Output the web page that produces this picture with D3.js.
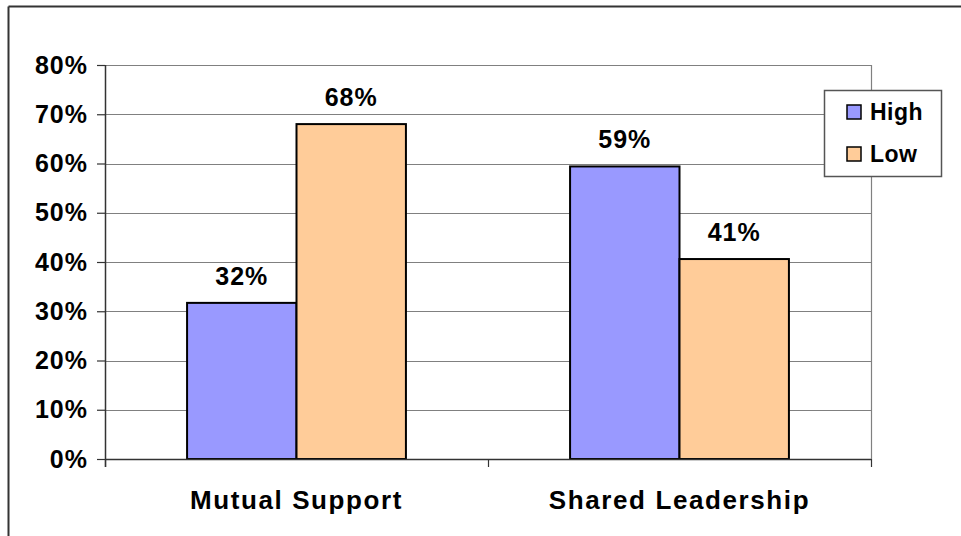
<!DOCTYPE html>
<meta charset="utf-8">
<script src="https://d3js.org/d3.v7.min.js"></script>
<style>
  body { margin: 0; background: #fff; }
  text { font-family: "Liberation Sans", Arial, sans-serif; font-weight: bold; fill: #000; }
</style>
<div id="my_dataviz"></div>
<script>
  // data
  var categories = ["Mutual Support", "Shared Leadership"];
  var seriesNames = ["High", "Low"];
  var highValues = [0.317, 0.594];
  var lowValues = [0.68, 0.406];
  var yTicks = [0, 0.1, 0.2, 0.3, 0.4, 0.5, 0.6, 0.7, 0.8];
  var colors = {High: "#9999ff", Low: "#ffcc99"};

  var data = categories.map(function(c, i) {
    return {cat: c, values: [{key: "High", v: highValues[i]}, {key: "Low", v: lowValues[i]}]};
  });

  var W = 961, H = 536;
  var margin = {top: 65, right: 90, bottom: 77, left: 105},
      width = W - margin.left - margin.right,
      height = H - margin.top - margin.bottom;

  var root = d3.select("#my_dataviz")
    .append("svg")
    .attr("width", W)
    .attr("height", H);

  // outer chart border (only top and left visible)
  root.append("line")
    .attr("x1", 8.5).attr("x2", W).attr("y1", 6.5).attr("y2", 6.5)
    .attr("stroke", "#333").attr("stroke-width", 2);
  root.append("line")
    .attr("x1", 8.5).attr("x2", 8.5).attr("y1", 6.5).attr("y2", H)
    .attr("stroke", "#333").attr("stroke-width", 2);

  var svg = root.append("g")
    .attr("transform", "translate(" + margin.left + "," + margin.top + ")");

  var x0 = d3.scaleBand().domain(categories).range([0, width]).paddingInner(0).paddingOuter(0);
  // 150% gap width: bar groups take 2 bars of band / (2 + 1.5)
  var groupW = x0.bandwidth() * 2 / 3.5;
  var x1 = d3.scaleBand().domain(seriesNames).range([0, groupW]);
  var y = d3.scaleLinear().domain([0, 0.8]).range([height, 0]);

  // gridlines
  svg.append("g")
    .selectAll("line")
    .data(yTicks.filter(function(d) { return d > 0; }))
    .enter().append("line")
    .attr("x1", 0).attr("x2", width)
    .attr("y1", function(d) { return Math.round(y(d)) + 0.5; })
    .attr("y2", function(d) { return Math.round(y(d)) + 0.5; })
    .attr("stroke", "#808080").attr("stroke-width", 1.2);

  // plot area right border
  svg.append("line")
    .attr("x1", width + 0.5).attr("x2", width + 0.5)
    .attr("y1", 0).attr("y2", height)
    .attr("stroke", "#808080").attr("stroke-width", 1.2);

  // bars
  var groups = svg.selectAll(".grp")
    .data(data)
    .enter().append("g")
    .attr("transform", function(d) {
      return "translate(" + (x0(d.cat) + (x0.bandwidth() - groupW) / 2) + ",0)";
    });

  groups.selectAll("rect")
    .data(function(d) { return d.values; })
    .enter().append("rect")
    .attr("x", function(d) { return x1(d.key); })
    .attr("y", function(d) { return y(d.v); })
    .attr("width", x1.bandwidth())
    .attr("height", function(d) { return height - y(d.v); })
    .attr("fill", function(d) { return colors[d.key]; })
    .attr("stroke", "#000")
    .attr("stroke-width", 2);

  groups.selectAll(".lbl")
    .data(function(d) { return d.values; })
    .enter().append("text")
    .attr("x", function(d) { return x1(d.key) + x1.bandwidth() / 2; })
    .attr("y", function(d) { return y(d.v) - 18; })
    .attr("text-anchor", "middle")
    .style("font-size", "25px")
    .style("letter-spacing", "1px")
    .text(function(d) { return Math.round(d.v * 100) + "%"; });

  // y axis
  var yAxis = svg.append("g")
    .call(d3.axisLeft(y).tickValues(yTicks).tickFormat(d3.format(".0%")).tickSize(8).tickPadding(9));
  yAxis.select(".domain").attr("stroke", "#333").attr("stroke-width", 1.5).attr("d", "M0.5,0V" + (height + 8));
  yAxis.selectAll(".tick line").attr("stroke", "#333").attr("stroke-width", 1.2);
  yAxis.selectAll("text")
    .style("font-size", "25px")
    .style("letter-spacing", "1px")
    .attr("fill", "#000");

  // x axis
  svg.append("line")
    .attr("x1", 0).attr("x2", width)
    .attr("y1", height + 0.5).attr("y2", height + 0.5)
    .attr("stroke", "#333").attr("stroke-width", 1.5);
  svg.append("g")
    .selectAll("line")
    .data(categories.concat(["end"]))
    .enter().append("line")
    .attr("x1", function(d, i) { return i * x0.bandwidth() + 0.5; })
    .attr("x2", function(d, i) { return i * x0.bandwidth() + 0.5; })
    .attr("y1", height).attr("y2", height + 8)
    .attr("stroke", "#333").attr("stroke-width", 1.2);
  svg.append("g")
    .selectAll("text")
    .data(categories)
    .enter().append("text")
    .attr("x", function(d) { return x0(d) + x0.bandwidth() / 2; })
    .attr("y", height + 50)
    .attr("text-anchor", "middle")
    .style("font-size", "26px")
    .style("letter-spacing", "1.6px")
    .text(function(d) { return d; });

  // legend
  var legend = root.append("g").attr("transform", "translate(824,90)");
  legend.append("rect")
    .attr("x", 0.5).attr("y", 0.5).attr("width", 117).attr("height", 86)
    .attr("fill", "#fff").attr("stroke", "#555").attr("stroke-width", 1.5);
  var items = legend.selectAll(".item")
    .data(seriesNames)
    .enter().append("g")
    .attr("transform", function(d, i) { return "translate(0," + (i * 42) + ")"; });
  items.append("rect")
    .attr("x", 23).attr("y", 15).attr("width", 14).attr("height", 14)
    .attr("fill", function(d) { return colors[d]; })
    .attr("stroke", "#000").attr("stroke-width", 1.5);
  items.append("text")
    .attr("x", 46).attr("y", 30)
    .style("font-size", "23px")
    .style("letter-spacing", "0.5px")
    .text(function(d) { return d; });
</script>
